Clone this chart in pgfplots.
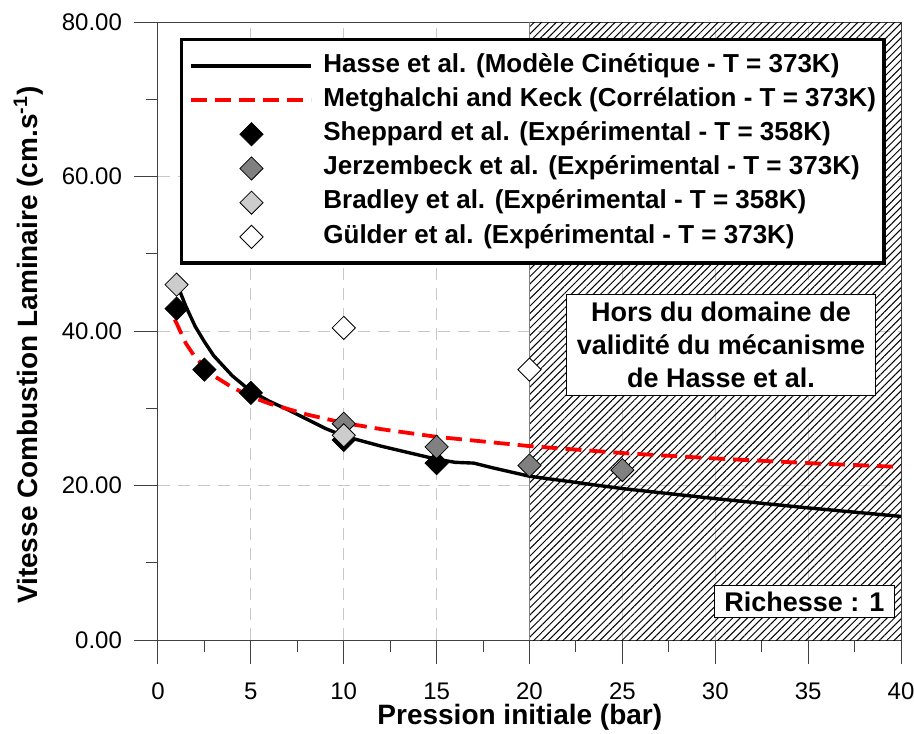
\documentclass[border=0pt]{standalone}
\usepackage{fontspec}
\setmainfont{Liberation Sans}
\usepackage{pgfplots}
\pgfplotsset{compat=1.18}
\usetikzlibrary{patterns.meta}

\definecolor{jerz}{RGB}{128,128,128}
\definecolor{brad}{RGB}{204,204,204}

\begin{document}
\begin{tikzpicture}
\begin{axis}[
  scale only axis, width=371.5pt, height=309pt,
  xmin=0, xmax=40, ymin=0, ymax=80,
  xtick={0,5,...,40}, ytick={0,20,...,80},
  minor x tick num=1, minor y tick num=1,
  tick align=outside, tick pos=left,
  major tick length=12pt, minor tick length=6pt,
  tick style={black!75, line width=0.5pt},
  axis line style={black!75, line width=0.5pt},
  grid=major,
  major grid style={black!22, line width=0.5pt, dash pattern=on 6pt off 4pt},
  /pgf/number format/assume math mode=true,
  yticklabel style={/pgf/number format/fixed, /pgf/number format/fixed zerofill,
    /pgf/number format/precision=2, xshift=-2.5pt},
  ticklabel style={font=\fontsize{12}{14}\selectfont},
  xticklabel style={yshift=-6pt},
  xlabel={Pression initiale (bar)},
  ylabel={Vitesse Combustion Laminaire (cm.s\textsuperscript{-1})},
  label style={font=\bfseries\fontsize{14}{16}\selectfont},
  xlabel style={at={(axis description cs:0.487,-0.1246)}, anchor=center},
  ylabel style={at={(axis description cs:-0.1743,0.477)}, anchor=center},
  legend style={at={(0.0296,0.974)}, anchor=north west, draw=black, line width=1.6pt,
    fill=white, font=\bfseries\fontsize{13}{15}\selectfont,
    inner xsep=4pt, inner ysep=7pt, row sep=4.9pt, column sep=5pt,
    nodes={inner sep=0pt, text height=9.2pt, text depth=3pt}},
  legend cell align=left,
  legend image code/.code={\draw[mark repeat=2,mark phase=2,#1] plot coordinates {(0pt,0pt) (30pt,0pt) (60pt,0pt)};},
]
% zone hors validite
\addplot[draw=none, pattern={Lines[angle=45,distance=2.6pt,line width=0.5pt]}, forget plot]
  coordinates {(20,80) (40,80)} \closedcycle;
\addplot[black!50, line width=0.5pt, forget plot] coordinates {(20,0) (20,80)};

% Hasse et al.
\addplot[black, line width=1.7pt] coordinates {
  (1,46.2) (1.5,43.2) (2,40.6) (2.5,38.6) (3,36.8) (4,34.2) (5,32.2) (6,30.9)
  (7,29.8) (8,28.6) (9,27.4) (10,26.4) (12,25.1) (15,23.4) (16,23.0)
  (17,22.9) (18,22.3) (20,21.2) (25,19.6) (30,18.3) (35,17.1) (40,16.0)
};
\addlegendentry{Hasse et al. (Modèle Cinétique - T = 373K)}

% Metghalchi and Keck
\addplot[red, line width=1.9pt, dash pattern=on 8pt off 4pt] coordinates {
  (0.9,41.5) (1,41.0) (1.5,38.4) (2,36.6) (3,34.2) (4,32.7) (5,31.5) (6,30.6)
  (8,29.2) (10,28.1) (12,27.3) (15,26.3) (20,25.1) (25,24.2) (30,23.5)
  (35,22.9) (40,22.4)
};
\addlegendentry{Metghalchi and Keck (Corrélation - T = 373K)}

% Sheppard et al.
\addplot[only marks, mark=square*, mark size=4.1pt,
  mark options={rotate=45, draw=black, fill=black, line width=0.4pt}] coordinates {
  (1,42.9) (2.5,35.0) (5,32.0) (10,25.9) (15,22.9)
};
\addlegendentry{Sheppard et al. (Expérimental - T = 358K)}

% Jerzembeck et al.
\addplot[only marks, mark=square*, mark size=4.1pt,
  mark options={rotate=45, draw=black, fill=jerz, line width=0.4pt}] coordinates {
  (10,28.0) (15,25.0) (20,22.6) (25,22.0)
};
\addlegendentry{Jerzembeck et al. (Expérimental - T = 373K)}

% Bradley et al.
\addplot[only marks, mark=square*, mark size=4.1pt,
  mark options={rotate=45, draw=black, fill=brad, line width=0.4pt}] coordinates {
  (1,46.0) (10,26.5)
};
\addlegendentry{Bradley et al. (Expérimental - T = 358K)}

% Gulder et al.
\addplot[only marks, mark=square*, mark size=4.1pt,
  mark options={rotate=45, draw=black, fill=white, line width=0.4pt}] coordinates {
  (10,40.4) (20,35.0)
};
\addlegendentry{Gülder et al. (Expérimental - T = 373K)}

\node[draw=black, line width=0.5pt, fill=white, align=center,
  font=\bfseries\fontsize{13.5}{16.5}\selectfont, inner xsep=5pt, inner ysep=4pt]
  at (axis cs:30.31,38.19) {Hors du domaine de\\validité du mécanisme\\de Hasse et al.};
\node[draw=black, line width=0.5pt, fill=white,
  font=\bfseries\fontsize{13.5}{16}\selectfont, inner xsep=5pt, inner ysep=3pt]
  at (axis cs:34.8,4.98) {Richesse : 1};

\coordinate (bl) at (rel axis cs:0,0);
\coordinate (tr) at (rel axis cs:1,1);
\end{axis}
\pgfresetboundingbox
\path ([xshift=-79pt,yshift=-46.5pt]bl) rectangle ([xshift=6.5pt,yshift=11pt]tr);
\end{tikzpicture}
\end{document}
